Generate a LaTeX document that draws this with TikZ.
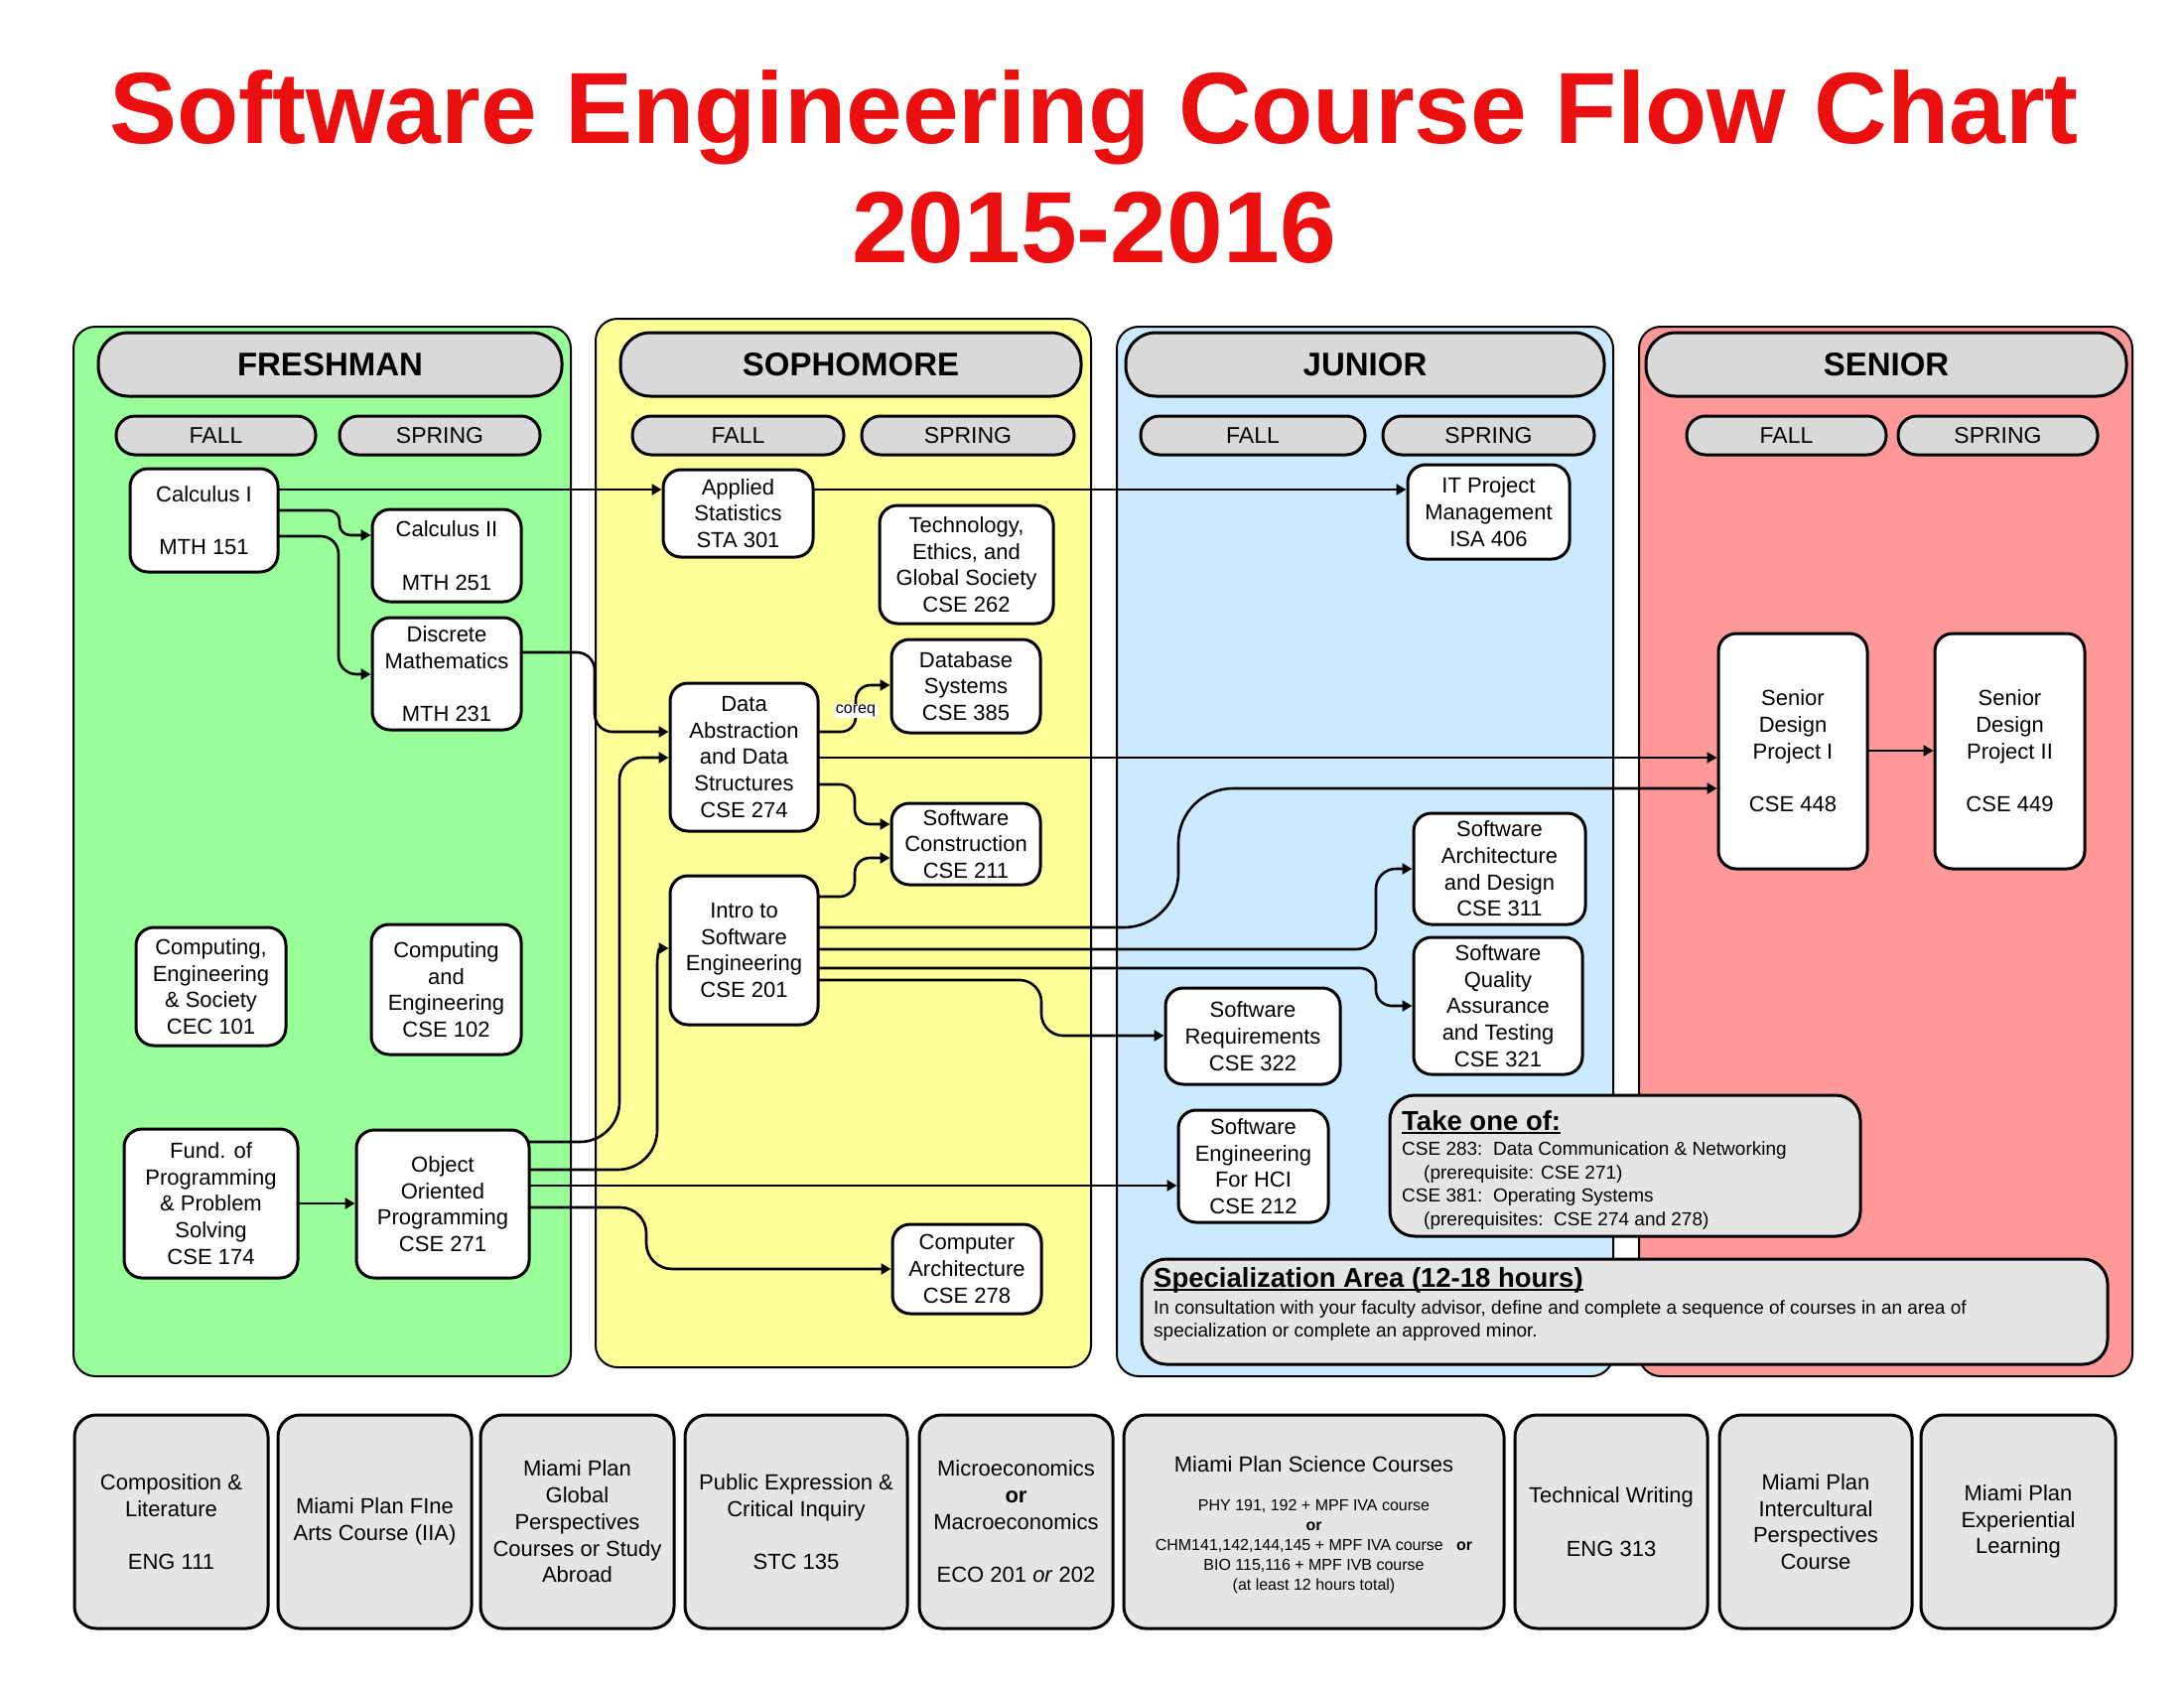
\documentclass[tikz,border=0pt]{standalone}
\usepackage{fontspec}
\setmainfont{Liberation Sans}
\usetikzlibrary{arrows.meta}
\pgfdeclarelayer{panels}
\pgfdeclarelayer{wires}
\pgfsetlayers{panels,wires,main}
\definecolor{titlered}{RGB}{235,15,15}
\definecolor{frgreen}{RGB}{153,255,153}
\definecolor{soyellow}{RGB}{255,255,153}
\definecolor{jublue}{RGB}{204,234,255}
\definecolor{sepink}{RGB}{255,153,153}
\definecolor{hdrgray}{RGB}{217,217,217}
\definecolor{boxgray}{RGB}{229,229,229}
\newcommand\myul[1]{\setbox0=\hbox{#1}\rlap{\rule[-4pt]{\wd0}{2.5pt}}\box0}
\tikzset{
 panel/.style={draw=black, line width=2pt, rounded corners=22pt},
 yearhdr/.style={draw, line width=3pt, fill=hdrgray, rounded corners=30pt, minimum height=64pt, inner sep=0pt, font=\fontsize{33}{36}\selectfont\bfseries},
 termpill/.style={draw, line width=3pt, fill=hdrgray, rounded corners=19pt, minimum height=39pt, inner sep=0pt, font=\fontsize{23}{26}\selectfont},
 course/.style={draw, line width=3pt, fill=white, rounded corners=18pt, align=center, inner sep=0pt, font=\fontsize{22}{26.7}\selectfont},
 gened/.style={draw, line width=3pt, fill=boxgray, rounded corners=22pt, align=center, inner sep=0pt, minimum height=215pt, font=\fontsize{22}{26.7}\selectfont},
 notebox/.style={draw, line width=3pt, fill=boxgray, rounded corners=25pt, inner sep=0pt},
 conn/.style={line width=2.6pt, -{Triangle[length=10pt,width=11pt]}},
 freetext/.style={inner sep=0pt, anchor=base west},
 sz/.style 2 args={minimum width=#1pt, minimum height=#2pt},
}
\begin{document}
\begin{tikzpicture}[x=1pt,y=-1pt]
\useasboundingbox (0,0) rectangle (2200,1700);
\begin{pgfonlayer}{panels}
\fill[white] (0,0) rectangle (2200,1700);
\draw[panel, fill=frgreen] (74,329) rectangle (575,1386);
\draw[panel, fill=soyellow] (600,321) rectangle (1099,1377);
\draw[panel, fill=jublue] (1125,329) rectangle (1625,1386);
\draw[panel, fill=sepink] (1651,329) rectangle (2148,1386);
\end{pgfonlayer}

% title
\node[anchor=base, inner sep=0pt, text=titlered, font=\fontsize{102}{110}\selectfont\bfseries] (t1) at (1102,144.5) {Software Engineering Course Flow Chart};
\node[anchor=base, inner sep=0pt, text=titlered, font=\fontsize{102}{110}\selectfont\bfseries] (t2) at (1102,264) {2015-2016};

% year headers
\node[yearhdr, minimum width=467pt] (hfr) at (332.5,367) {FRESHMAN};
\node[yearhdr, minimum width=464pt] (hso) at (857,367) {SOPHOMORE};
\node[yearhdr, minimum width=482pt] (hju) at (1375,367) {JUNIOR};
\node[yearhdr, minimum width=484pt] (hse) at (1900,367) {SENIOR};

% terms
\node[termpill, minimum width=201pt] (frfa) at (217.5,438.5) {FALL};
\node[termpill, minimum width=202pt] (frsp) at (443,438.5) {SPRING};
\node[termpill, minimum width=213pt] (sofa) at (743.5,438.5) {FALL};
\node[termpill, minimum width=214pt] (sosp) at (975,438.5) {SPRING};
\node[termpill, minimum width=226pt] (jufa) at (1262,438.5) {FALL};
\node[termpill, minimum width=213pt] (jusp) at (1499.5,438.5) {SPRING};
\node[termpill, minimum width=201pt] (sefa) at (1799.5,438.5) {FALL};
\node[termpill, minimum width=201pt] (sesp) at (2012.5,438.5) {SPRING};

% courses
\node[course, sz={149}{104}] (calcI) at (205.5,524) {Calculus I\\\mbox{}\\MTH 151};
\node[course, sz={150}{93}] (calcII) at (450,559.5) {Calculus II\\\mbox{}\\MTH 251};
\node[course, sz={150}{113}] (discrete) at (450,678.5) {Discrete\\Mathematics\\\mbox{}\\MTH 231};
\node[course, sz={151}{119}] (cec101) at (212.5,993.5) {Computing,\\Engineering\\\& Society\\CEC 101};
\node[course, sz={151}{131}] (cse102) at (449.5,996.5) {Computing\\and\\Engineering\\CSE 102};
\node[course, sz={175}{150}] (cse174) at (212.5,1212) {Fund. of\\Programming\\\& Problem\\Solving\\CSE 174};
\node[course, sz={174}{149}] (cse271) at (446,1212.5) {Object\\Oriented\\Programming\\CSE 271};
\node[course, sz={151}{88}] (sta301) at (743.5,517) {Applied\\Statistics\\STA 301};
\node[course, sz={175}{119}] (cse262) at (973.5,568.5) {Technology,\\Ethics, and\\Global Society\\CSE 262};
\node[course, sz={150}{94}] (cse385) at (973,691) {Database\\Systems\\CSE 385};
\node[course, sz={149}{149}] (cse274) at (749.5,762.5) {Data\\Abstraction\\and Data\\Structures\\CSE 274};
\node[course, sz={150}{82}] (cse211) at (973,850) {Software\\Construction\\CSE 211};
\node[course, sz={149}{150}] (cse201) at (749.5,957) {Intro to\\Software\\Engineering\\CSE 201};
\node[course, sz={150}{90}] (cse278) at (974,1278) {Computer\\Architecture\\CSE 278};
\node[course, sz={163}{95}] (isa406) at (1499.5,515.5) {IT Project\\Management\\ISA 406};
\node[course, sz={173}{112}] (cse311) at (1510.5,875) {Software\\Architecture\\and Design\\CSE 311};
\node[course, sz={170}{138}] (cse321) at (1509,1013) {Software\\Quality\\Assurance\\and Testing\\CSE 321};
\node[course, sz={176}{97}] (cse322) at (1262,1043.5) {Software\\Requirements\\CSE 322};
\node[course, sz={151}{113}] (cse212) at (1262.5,1174.5) {Software\\Engineering\\For HCI\\CSE 212};
\node[course, sz={150}{237}] (cse448) at (1806,756.5) {Senior\\Design\\Project I\\\mbox{}\\CSE 448};
\node[course, sz={151}{237}] (cse449) at (2024.5,756.5) {Senior\\Design\\Project II\\\mbox{}\\CSE 449};

% coreq label
\node[fill=white, inner sep=1.5pt, font=\fontsize{16}{18}\selectfont] (coreq) at (862,716) {coreq};

% note boxes
\node[notebox, sz={474}{142}] (takeone) at (1637,1174) {};
\node[freetext, font=\fontsize{27.5}{30}\selectfont\bfseries] (tk0) at (1412,1138) {\myul{Take one of:}};
\node[freetext, font=\fontsize{19}{22}\selectfont] (tk1) at (1412,1163) {CSE 283:\ \ Data Communication \& Networking};
\node[freetext, font=\fontsize{19}{22}\selectfont] (tk2) at (1434,1187) {(prerequisite: CSE 271)};
\node[freetext, font=\fontsize{19}{22}\selectfont] (tk3) at (1412,1210.5) {CSE 381:\ \ Operating Systems};
\node[freetext, font=\fontsize{19}{22}\selectfont] (tk4) at (1434,1234.5) {(prerequisites:\ \ CSE 274 and 278)};

\node[notebox, sz={973}{106}] (spec) at (1636.5,1321) {};
\node[freetext, font=\fontsize{27.5}{30}\selectfont\bfseries] (sp0) at (1162,1296) {\myul{Specialization Area (12-18 hours)}};
\node[freetext, font=\fontsize{19}{22}\selectfont] (sp1) at (1162,1323) {In consultation with your faculty advisor, define and complete a sequence of courses in an area of};
\node[freetext, font=\fontsize{19}{22}\selectfont] (sp2) at (1162,1346) {specialization or complete an approved minor.};

% general education row
\node[gened, minimum width=195pt] (g1) at (172.5,1532.5) {Composition \&\\Literature\\\mbox{}\\ENG 111};
\node[gened, minimum width=195pt] (g2) at (377.5,1532.5) {Miami Plan FIne\\Arts Course (IIA)};
\node[gened, minimum width=195pt] (g3) at (581.5,1532.5) {Miami Plan\\Global\\Perspectives\\Courses or Study\\Abroad};
\node[gened, minimum width=224pt] (g4) at (802,1532.5) {Public Expression \&\\Critical Inquiry\\\mbox{}\\STC 135};
\node[gened, minimum width=195pt] (g5) at (1023.5,1532.5) {Microeconomics\\\textbf{or}\\Macroeconomics\\\mbox{}\\ECO 201 \textit{or} 202};
\node[gened, minimum width=383pt] (g6) at (1323.5,1532.5) {};
\node[inner sep=0pt, font=\fontsize{22}{26.7}\selectfont] (g6t) at (1323.5,1475) {Miami Plan Science Courses};
\node[inner sep=0pt, align=center, font=\fontsize{16}{20}\selectfont] (g6b) at (1323.5,1558) {PHY 191, 192 + MPF IVA course\\\textbf{or}\\CHM141,142,144,145 + MPF IVA course\ \ \ \textbf{or}\\BIO 115,116 + MPF IVB course\\(at least 12 hours total)};
\node[gened, minimum width=194pt] (g7) at (1623,1532.5) {Technical Writing\\\mbox{}\\ENG 313};
\node[gened, minimum width=194pt] (g8) at (1829,1532.5) {Miami Plan\\Intercultural\\Perspectives\\Course};
\node[gened, minimum width=196pt] (g9) at (2033,1532.5) {Miami Plan\\Experiential\\Learning};

% connectors
\begin{pgfonlayer}{wires}
\draw[conn] (calcI |- 0,493) -- (sta301.west |- 0,493);
\draw[conn] (sta301 |- 0,493) -- (isa406.west |- 0,493);
\draw[conn, rounded corners=11pt] (calcI |- 0,514) -- (342,514) -- (342,539) -- (calcII.west |- 0,539);
\draw[conn, rounded corners=18pt] (calcI |- 0,540) -- (341,540) -- (341,679) -- (discrete.west |- 0,679);
\draw[conn, rounded corners=18pt] (discrete |- 0,657) -- (599,657) -- (599,737) -- (cse274.west |- 0,737);
\draw[conn, rounded corners=15pt] (cse274 |- 0,737) -- (862,737) -- (862,690) -- (cse385.west |- 0,690);
\draw[conn] (cse274 |- 0,763) -- (cse448.west |- 0,763);
\draw[conn, rounded corners=15pt] (cse274 |- 0,790) -- (861,790) -- (861,830) -- (cse211.west |- 0,830);
\draw[conn, rounded corners=15pt] (cse201 |- 0,903) -- (861,903) -- (861,864) -- (cse211.west |- 0,864);
\draw[conn, rounded corners=55pt] (cse201 |- 0,934) -- (1187,934) -- (1187,794) -- (cse448.west |- 0,794);
\draw[conn, rounded corners=20pt] (cse201 |- 0,956) -- (1386,956) -- (1386,875) -- (cse311.west |- 0,875);
\draw[conn, rounded corners=16pt] (cse201 |- 0,975) -- (1386,975) -- (1386,1013) -- (cse321.west |- 0,1013);
\draw[conn, rounded corners=22pt] (cse201 |- 0,987) -- (1049,987) -- (1049,1043) -- (cse322.west |- 0,1043);
\draw[conn] (cse271 |- 0,1150) -- (584,1150) .. controls (606.1,1150) and (624,1132.1) .. (624,1110) -- (624,785) .. controls (624,772.9) and (633.9,763) .. (646,763) -- (cse274.west |- 0,763);
\draw[conn] (cse271 |- 0,1178) -- (622,1178) .. controls (644.1,1178) and (662,1160.1) .. (662,1138) -- (662,972) .. controls (662,961) and (664,955) .. (cse201.west |- 0,955);
\draw[conn] (cse271 |- 0,1194) -- (cse212.west |- 0,1194);
\draw[conn, rounded corners=26pt] (cse271 |- 0,1216) -- (651,1216) -- (651,1278) -- (cse278.west |- 0,1278);
\draw[conn] (cse174 |- 0,1212) -- (cse271.west |- 0,1212);
\draw[conn] (cse448 |- 0,756) -- (cse449.west |- 0,756);
\end{pgfonlayer}
\end{tikzpicture}
\end{document}
